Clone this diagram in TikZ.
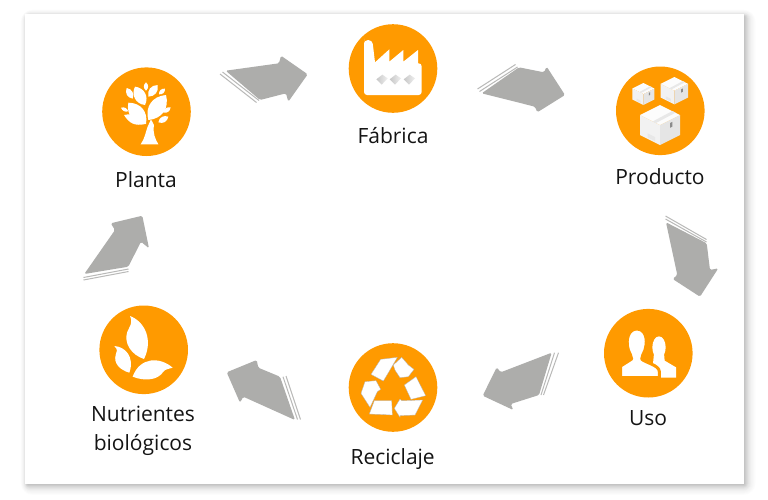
\documentclass[tikz,border=0pt]{standalone}
\usepackage{fontspec}
\setmainfont{Open Sans}
\usetikzlibrary{calc}
\definecolor{orangeC}{HTML}{FF9A00}
\definecolor{arrowC}{HTML}{ADADAB}
\tikzset{
  disc/.style={circle,fill=orangeC,minimum size=88.6pt,inner sep=0pt,draw=none},
  lab/.style={anchor=base,font=\fontsize{21}{21}\selectfont,text=black!92,inner sep=0pt,align=center},
  blockarrow/.style={fill=arrowC,rounded corners=1.5pt},
  stripe/.style={draw=arrowC!85,line width=1pt},
  icon/.style={fill=white},
  zoomed/.style={x=0.33333pt,y=-0.33333pt},
  recy/.style={fill=white,draw=black!30,line width=0.3pt,line join=round}
}
\newcommand{\leafshape}[3]{\fill[white] (#1) to[bend left=#3,looseness=1.15] (#2) to[bend left=#3,looseness=1.15] (#1);}
\newcommand{\crate}[3]{%
 \begin{scope}[shift={(#1,#2)},x=#3pt,y=-#3pt]
  \fill[white!95!black] (0,0) -- (-1,-.5) -- (-1,.5) -- (0,1) -- cycle;
  \fill[white!90!black] (0,0) -- (1,-.5) -- (1,.5) -- (0,1) -- cycle;
  \fill[white!99!black] (0,0) -- (1,-.5) -- (0,-1) -- (-1,-.5) -- cycle;
  \fill[black!9] (.62,-.70) -- (.78,-.62) -- (-.2,-.1) -- (-.36,-.18) -- cycle;
  \fill[black!9] (-.62,.42) -- (-.25,.6) -- (-.25,.8) -- (-.62,.62) -- cycle;
  \fill[black!45] (.5,-.1) -- (.62,-.16) -- (.62,.08) -- (.5,.14) -- cycle;
 \end{scope}}
\begin{document}
\begin{tikzpicture}[x=1pt,y=-1pt]
\useasboundingbox (0,0) rectangle (768,499);
\fill[white] (0,0) rectangle (768,499);
% card shadow: nested soft rectangles
\foreach \d/\k in {12/1,11/2,10/3,9/4,8/5,7/7,6/9,5/11,4/14,3/17,2/20,1/23,0/26}{
  \fill[black!\k,rounded corners=\d pt] (27.5-\d*0.55,16.5-\d*0.55) rectangle (744+\d*0.95,484+\d*0.9);
}
\fill[white] (25,14) rectangle (744,484);
% discs
\node[disc] (planta) at (146.5,111.7) {};
\node[disc] (fabrica) at (393,68.5) {};
\node[disc] (producto) at (660.3,110.8) {};
\node[disc] (uso) at (648.3,353.2) {};
\node[disc] (reciclaje) at (393,387.5) {};
\node[disc] (nutrientes) at (143.7,349.8) {};
% labels
\node[lab] (lplanta) at (146,187) {Planta};
\node[lab] (lfabrica) at (393,143) {Fábrica};
\node[lab] (lproducto) at (660,184) {Producto};
\node[lab] (luso) at (648,425) {Uso};
\node[lab] (lreciclaje) at (392.7,464) {Reciclaje};
\node[lab] (lnutri) at (143,421.7) {Nutrientes};
\node[lab] (lbio) at (143,450) {biológicos};
% arrows
\fill[blockarrow] (225.7,70.7) -- (279,63.3) -- (281,55.7) -- (307.7,74.3) -- (288.3,101.7) -- (286,93.3) -- (260,100) -- cycle;
\draw[stripe] (220,74) -- (256.5,102.5);
\draw[stripe] (222.5,72) -- (259,100.5);
\fill[blockarrow] (519,67.3) -- (544,72.3) -- (546.7,66.7) -- (565,95) -- (537.3,112.3) -- (535,106.7) -- (481.7,93.3) -- cycle;
\draw[stripe] (477.5,89) -- (515.5,64.5);
\draw[stripe] (479.5,91.5) -- (517.5,67);
\fill[blockarrow] (666,222.3) -- (706.7,243.3) -- (710,270) -- (718.3,268.3) -- (700,296.7) -- (672.7,279) -- (677.3,275) -- cycle;
\draw[stripe] (665.5,216) -- (706.5,239.5);
\draw[stripe] (665.5,219) -- (706.5,242);
\fill[blockarrow] (551.7,352.7) -- (539,395) -- (510.7,404) -- (513.3,410) -- (482.7,395.7) -- (496.7,367.3) -- (500.7,372.3) -- cycle;
\draw[stripe] (554.5,352.7) -- (541,395);
\draw[stripe] (558.5,352.7) -- (543.5,395);
\fill[blockarrow] (280,376.7) -- (295,420) -- (243.3,396.7) -- (240,402.7) -- (226.7,372.3) -- (256.7,360) -- (258.3,367.7) -- cycle;
\draw[stripe] (283,376.7) -- (297.5,419.5);
\draw[stripe] (286,376) -- (300.5,419.5);
\fill[blockarrow] (84.3,274) -- (128.3,266.7) -- (141,241.7) -- (149,248.3) -- (142.3,215.7) -- (110.7,223.3) -- (115,230) -- cycle;
\draw[stripe] (83.5,277.5) -- (128.5,269);
\draw[stripe] (83.5,280) -- (128.5,271.5);
% tree
\begin{scope}[shift={(80,50)},zoomed]
 \fill[icon] (182,283) .. controls (195,265) and (197,245) .. (203,230) -- (213,208) -- (222,225) .. controls (218,250) and (225,265) .. (235,283) -- cycle;
 \leafshape{205,210}{258,135}{50}
 \leafshape{198,222}{145,158}{50}
 \leafshape{132,195}{196,222}{35}
 \leafshape{195,165}{165,110}{55}
 \leafshape{198,122}{198,97}{50}
 \leafshape{205,140}{233,105}{50}
 \leafshape{237,133}{255,116}{50}
 \leafshape{158,146}{140,114}{50}
 \leafshape{123,173}{145,184}{40}
 \leafshape{235,217}{265,200}{50}
 \leafshape{250,188}{272,172}{45}
\end{scope}
% factory
\begin{scope}[shift={(340,10)},zoomed]
 \fill[icon,rounded corners=3pt] (72,98) -- (72,255) -- (245,255) -- (245,160) [sharp corners] -- (234,160) -- (234,120) -- (190,155) -- (190,120) -- (148,155) -- (148,118) -- (105,157) [rounded corners=4pt] -- (97,90) -- (72,90) -- cycle;
 \foreach \p in {125,165,207}{
  \shade[left color=black!22,right color=black!6] (\p-16,208) -- (\p+2,194) -- (\p+18,205) -- (\p,224) -- cycle;
 }
\end{scope}
% boxes
\begin{scope}[shift={(600,50)},zoomed]
 \crate{130}{132}{11}
 \crate{223}{122}{13.7}
 \crate{180}{225}{20}
\end{scope}
% people
\begin{scope}[shift={(590,210)},zoomed]
 \fill[icon] (207,412) ellipse (20 and 33);
 \fill[icon] (192,430) -- (222,430) -- (224,452) -- (258,472) -- (258,503) -- (185,503) -- cycle;
 \filldraw[fill=white,draw=orangeC,line width=3pt,line join=round]
   (92,503) -- (92,468) -- (125,447) .. controls (124,438) and (120,432) .. (115,420) .. controls (105,385) and (118,357) .. (140,357) .. controls (165,357) and (175,385) .. (165,420) .. controls (160,432) and (156,438) .. (155,447) .. controls (165,458) and (208,465) .. (208,485) -- (208,503) -- cycle;
 \fill[orangeC] (85,503) rectangle (270,512);
\end{scope}
% recycle
\begin{scope}[shift={(340,330)},zoomed]
 \filldraw[recy] (93,133) -- (122,88) -- (172,82) -- (145,128) -- (130,153) -- cycle;
 \filldraw[recy] (160,105) -- (185,82) -- (205,105) -- (222,118) -- (205,140) -- (180,143) -- (165,120) -- cycle;
 \filldraw[recy] (193,165) -- (228,140) -- (257,197) -- (213,208) -- cycle;
 \filldraw[recy] (248,210) -- (225,255) -- (180,257) -- (180,262) -- (163,235) -- (180,207) -- (185,212) -- cycle;
 \filldraw[recy] (103,212) -- (155,212) -- (157,255) -- (88,252) -- cycle;
 \filldraw[recy] (63,190) -- (75,155) -- (108,152) -- (122,178) -- (112,185) -- (90,232) -- cycle;
\end{scope}
% leaves
\begin{scope}[shift={(70,200)},zoomed]
 \fill[icon] (180,348) .. controls (225,365) and (250,420) .. (222,477) .. controls (185,465) and (160,430) .. (172,395) .. controls (178,380) and (190,370) .. (180,348) -- cycle;
 \fill[icon] (133,438) .. controls (165,440) and (195,470) .. (178,518) .. controls (150,510) and (130,490) .. (137,465) .. controls (140,455) and (145,450) .. (133,438) -- cycle;
 \fill[icon] (308,503) .. controls (270,470) and (210,470) .. (188,530) .. controls (225,545) and (265,540) .. (280,515) .. controls (285,508) and (295,507) .. (308,503) -- cycle;
\end{scope}
\end{tikzpicture}
\end{document}
